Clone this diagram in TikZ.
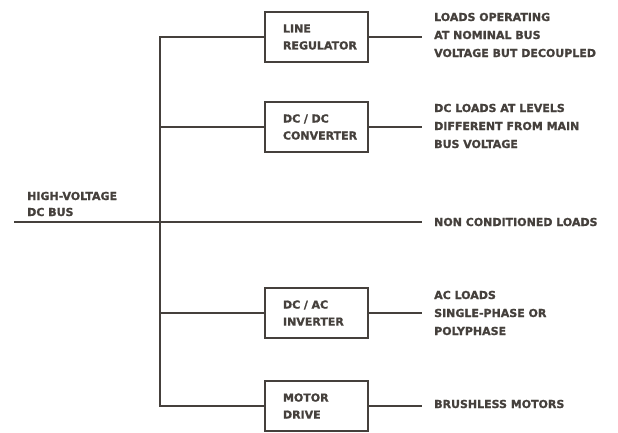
\documentclass[tikz,border=0pt]{standalone}
\usepackage{fontspec}
\setmainfont{DejaVu Sans}[BoldFeatures={FakeBold=1.2}]
\definecolor{ink}{HTML}{45403C}
\begin{document}
\begin{tikzpicture}[x=1pt,y=-1pt,
  every node/.style={text=ink,font=\bfseries\fontsize{11}{17}\selectfont},
  conv/.style={draw=ink,line width=1.7pt,minimum height=50pt,text width=67pt,inner xsep=18pt,inner ysep=0pt,align=left},
  loadtxt/.style={anchor=west,inner xsep=12pt,inner ysep=0pt,align=left,font=\bfseries\fontsize{11}{18}\selectfont},
  wire/.style={draw=ink,line width=1.8pt}]
\useasboundingbox (0,0) rectangle (618,432);
\fill[white] (0,0) rectangle (618,432);
\coordinate (vb) at (160,0);
\coordinate (busl) at (14,222);
\node[conv] (lr) at (316.5,37) {LINE\\REGULATOR};
\node[conv] (dc) at (316.5,127) {DC / DC\\CONVERTER};
\node[conv] (inv) at (316.5,313) {DC / AC\\INVERTER};
\node[conv] (md) at (316.5,406) {MOTOR\\DRIVE};
\node[loadtxt] (t1) at (422,35) {LOADS OPERATING\\AT NOMINAL BUS\\VOLTAGE BUT DECOUPLED};
\node[loadtxt] (t2) at (422,126) {DC LOADS AT LEVELS\\DIFFERENT FROM MAIN\\BUS VOLTAGE};
\node[loadtxt] (t3) at (422,222) {NON CONDITIONED LOADS};
\node[loadtxt] (t4) at (422,313) {AC LOADS\\SINGLE-PHASE OR\\POLYPHASE};
\node[loadtxt] (t5) at (422,404) {BRUSHLESS MOTORS};
\node[anchor=west,align=left,inner sep=0pt,font=\bfseries\fontsize{11}{16}\selectfont] (hv) at (27,204) {HIGH-VOLTAGE\\DC BUS};
% bus
\draw[wire] (busl) -- (busl -| t3.west);
\draw[wire] (lr.west) -- (lr.west -| vb) -- (md.west -| vb) -- (md.west);
\draw[wire] (dc.west -| vb) -- (dc.west);
\draw[wire] (inv.west -| vb) -- (inv.west);
% outputs
\draw[wire] (lr.east) -- (lr.east -| t1.west);
\draw[wire] (dc.east) -- (dc.east -| t2.west);
\draw[wire] (inv.east) -- (inv.east -| t4.west);
\draw[wire] (md.east) -- (md.east -| t5.west);
\end{tikzpicture}
\end{document}
